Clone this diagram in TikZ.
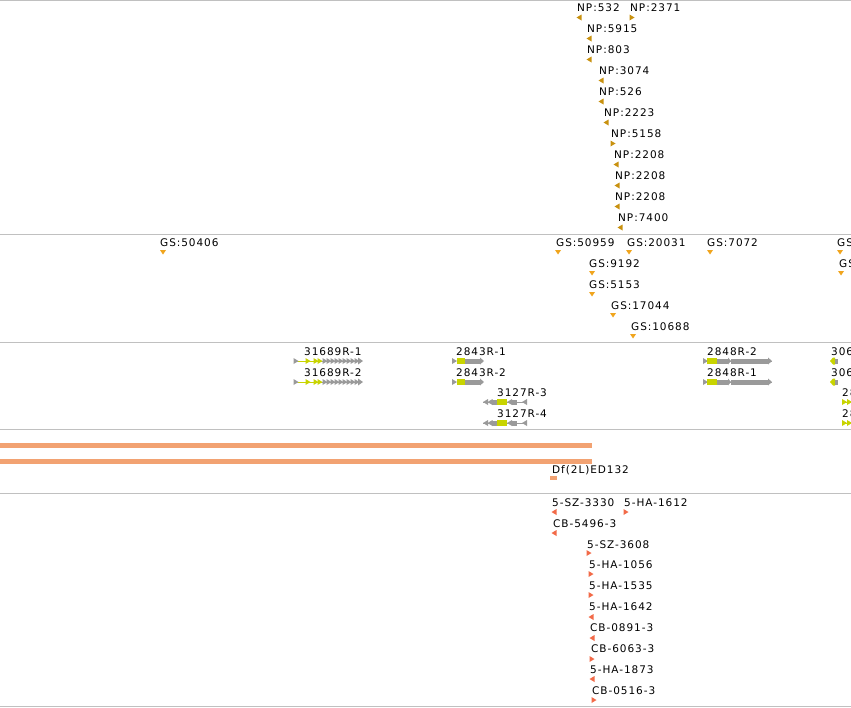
\documentclass[tikz,border=0pt]{standalone}
\usepackage{fontspec}
\setmainfont{DejaVu Sans}
\newfontfamily\lblfont[LetterSpace=9]{DejaVu Sans}
\usepackage{tikz}
\definecolor{sepgray}{HTML}{C0C0C0}
\definecolor{npgold}{HTML}{C8910F}
\definecolor{gsorange}{HTML}{F0A51E}
\definecolor{cdsgreen}{HTML}{C8D400}
\definecolor{genegray}{HTML}{9A9A9A}
\definecolor{dfsalmon}{HTML}{F2A272}
\definecolor{clonered}{HTML}{F26A48}
\tikzset{lbl/.style={anchor=base west, inner sep=0pt, font=\lblfont\fontsize{10.5}{10.5}\selectfont}}
\def\trileft[#1](#2,#3){\fill[#1] (#2+2.5,#3-3) -- (#2-2.5,#3) -- (#2+2.5,#3+3) -- cycle;}
\def\triright[#1](#2,#3){\fill[#1] (#2-2.5,#3-3) -- (#2+2.5,#3) -- (#2-2.5,#3+3) -- cycle;}
\def\tridown[#1](#2,#3){\fill[#1] (#2-3,#3-2) -- (#2+3,#3-2) -- (#2,#3+2.5) -- cycle;}
\def\genea(#1){%
	\draw[genegray, line width=1pt] (294,#1) -- (360,#1);
	\draw[cdsgreen, line width=1pt] (298,#1) -- (322,#1);
	\triright[genegray](296,#1) \triright[cdsgreen](308,#1) \triright[cdsgreen](316,#1) \triright[cdsgreen](320,#1)
	\foreach \gx in {325,329,...,357} {\triright[genegray](\gx,#1)}
	\fill[genegray] (358,#1-3.5) -- (363,#1) -- (358,#1+3.5) -- cycle;}
\def\geneb(#1){%
	\triright[genegray](454.5,#1)
	\fill[cdsgreen] (457,#1-3) rectangle (465,#1+3);
	\fill[genegray] (465,#1-2.5) rectangle (480,#1+2.5);
	\fill[genegray] (480,#1-3.5) -- (484,#1) -- (480,#1+3.5) -- cycle;}
\def\genec(#1){%
	\draw[genegray] (483,#1) -- (527,#1);
	\trileft[genegray](485.5,#1) \trileft[genegray](490,#1)
	\fill[genegray] (492,#1-2.5) rectangle (497,#1+2.5);
	\fill[cdsgreen] (497,#1-3) rectangle (507,#1+3);
	\trileft[genegray](509.5,#1)
	\fill[genegray] (512,#1-2.5) rectangle (517,#1+2.5);
	\trileft[genegray](524.5,#1)}
\def\gened(#1){%
	\draw[genegray] (704,#1) -- (772,#1);
	\triright[genegray](705.5,#1)
	\fill[cdsgreen] (707,#1-3) rectangle (717,#1+3);
	\fill[genegray] (717,#1-2.5) rectangle (728,#1+2.5);
	\fill[genegray] (728,#1-3.5) -- (731,#1) -- (728,#1+3.5) -- cycle;
	\fill[genegray] (731,#1-2.5) rectangle (768,#1+2.5);
	\fill[genegray] (768,#1-3.5) -- (772,#1) -- (768,#1+3.5) -- cycle;}
\def\genee(#1){%
	\fill[cdsgreen] (830,#1) -- (833,#1-3.5) -- (835,#1-3.5) -- (835,#1+3.5) -- (833,#1+3.5) -- cycle;
	\fill[genegray] (835,#1-2.5) rectangle (838,#1+2.5);}
\def\genef(#1){%
	\draw[cdsgreen] (842,#1) -- (851,#1);
	\triright[cdsgreen](844.5,#1) \triright[cdsgreen](849.5,#1)}

\begin{document}
\begin{tikzpicture}[x=1pt, y=-1pt]
			%%%%% START %%%%%
			
			\useasboundingbox (0,0) rectangle (851,707);
			\clip (0,0) rectangle (851,707);
			
			\draw[sepgray, line width=1pt] (0, 0.5) -- (851, 0.5);
			\draw[sepgray, line width=1pt] (0, 234) -- (851, 234);
			\draw[sepgray, line width=1pt] (0, 342) -- (851, 342);
			\draw[sepgray, line width=1pt] (0, 429) -- (851, 429);
			\draw[sepgray, line width=1pt] (0, 493) -- (851, 493);
			\draw[sepgray, line width=1pt] (0, 706) -- (851, 706);
			
			\node[lbl] (np532) at (577, 11) {NP:532};
			\trileft[npgold](579, 17.5)
			\node[lbl] (np2371) at (630, 11) {NP:2371};
			\triright[npgold](632, 17.5)
			\node[lbl] (np5915) at (587, 32) {NP:5915};
			\trileft[npgold](589, 38.5)
			\node[lbl] (np803) at (587, 53) {NP:803};
			\trileft[npgold](589, 59.5)
			\node[lbl] (np3074) at (599, 74) {NP:3074};
			\trileft[npgold](601, 80.5)
			\node[lbl] (np526) at (599, 95) {NP:526};
			\trileft[npgold](601, 101.5)
			\node[lbl] (np2223) at (604, 116) {NP:2223};
			\trileft[npgold](606, 122.5)
			\node[lbl] (np5158) at (611, 137) {NP:5158};
			\triright[npgold](613, 143.5)
			\node[lbl] (np2208a) at (614, 158) {NP:2208};
			\trileft[npgold](616, 164.5)
			\node[lbl] (np2208b) at (615, 179) {NP:2208};
			\trileft[npgold](617, 185.5)
			\node[lbl] (np2208c) at (615, 200) {NP:2208};
			\trileft[npgold](617, 206.5)
			\node[lbl] (np7400) at (618, 221) {NP:7400};
			\trileft[npgold](620, 227.5)
			
			\node[lbl] (gs50406) at (160, 246.5) {GS:50406};
			\tridown[gsorange](163, 252)
			\node[lbl] (gs50959) at (556, 246.5) {GS:50959};
			\tridown[gsorange](558, 252)
			\node[lbl] (gs20031) at (627, 246.5) {GS:20031};
			\tridown[gsorange](629, 252)
			\node[lbl] (gs7072) at (707, 246.5) {GS:7072};
			\tridown[gsorange](710, 252)
			\node[lbl] (gsedgea) at (837, 246.5) {GS};
			\tridown[gsorange](840, 252)
			\node[lbl] (gs9192) at (589, 267.5) {GS:9192};
			\tridown[gsorange](592, 273)
			\node[lbl] (gsedgeb) at (839, 267.5) {GS};
			\tridown[gsorange](841, 273)
			\node[lbl] (gs5153) at (589, 288.5) {GS:5153};
			\tridown[gsorange](592, 294)
			\node[lbl] (gs17044) at (611, 309.5) {GS:17044};
			\tridown[gsorange](613, 315)
			\node[lbl] (gs10688) at (631, 330.5) {GS:10688};
			\tridown[gsorange](633, 336)
			
			\node[lbl] (r31689a) at (304, 355) {31689R-1};
			\genea(361)
			\node[lbl] (r31689b) at (304, 376) {31689R-2};
			\genea(382)
			\node[lbl] (r2843a) at (456, 355) {2843R-1};
			\geneb(361)
			\node[lbl] (r2843b) at (456, 376) {2843R-2};
			\geneb(382)
			\node[lbl] (r3127a) at (497, 396.5) {3127R-3};
			\genec(402)
			\node[lbl] (r3127b) at (497, 417) {3127R-4};
			\genec(423)
			\node[lbl] (r2848b) at (707, 355) {2848R-2};
			\gened(361)
			\node[lbl] (r2848a) at (707, 376) {2848R-1};
			\gened(382)
			\node[lbl] (r306a) at (831, 355) {306};
			\genee(361)
			\node[lbl] (r306b) at (831, 376) {306};
			\genee(382)
			\node[lbl] (r28a) at (842, 396.5) {28};
			\genef(402)
			\node[lbl] (r28b) at (842, 417) {28};
			\genef(423)
			
			\fill[dfsalmon] (0, 443) rectangle (592, 448);
			\fill[dfsalmon] (0, 459) rectangle (592, 464);
			\node[lbl] (df132) at (552, 473) {Df(2L)ED132};
			\fill[dfsalmon] (550, 476) rectangle (557, 480);
			
			\node[lbl] (sz3330) at (552, 506) {5-SZ-3330};
			\trileft[clonered](554, 512)
			\node[lbl] (ha1612) at (624, 506) {5-HA-1612};
			\triright[clonered](626, 512)
			\node[lbl] (cb5496) at (553, 527) {CB-5496-3};
			\trileft[clonered](554, 533)
			\node[lbl] (sz3608) at (587, 548) {5-SZ-3608};
			\triright[clonered](589, 553)
			\node[lbl] (ha1056) at (589, 568.5) {5-HA-1056};
			\triright[clonered](591, 574)
			\node[lbl] (ha1535) at (589, 589.5) {5-HA-1535};
			\triright[clonered](591, 595)
			\node[lbl] (ha1642) at (589, 610.5) {5-HA-1642};
			\trileft[clonered](591, 617)
			\node[lbl] (cb0891) at (590, 631) {CB-0891-3};
			\trileft[clonered](592, 638)
			\node[lbl] (cb6063) at (591, 652) {CB-6063-3};
			\triright[clonered](592, 659)
			\node[lbl] (ha1873) at (590, 673) {5-HA-1873};
			\trileft[clonered](592, 679)
			\node[lbl] (cb0516) at (592, 694) {CB-0516-3};
			\triright[clonered](594, 700)
			
			%%%%% END %%%%%
\end{tikzpicture}
\end{document}
